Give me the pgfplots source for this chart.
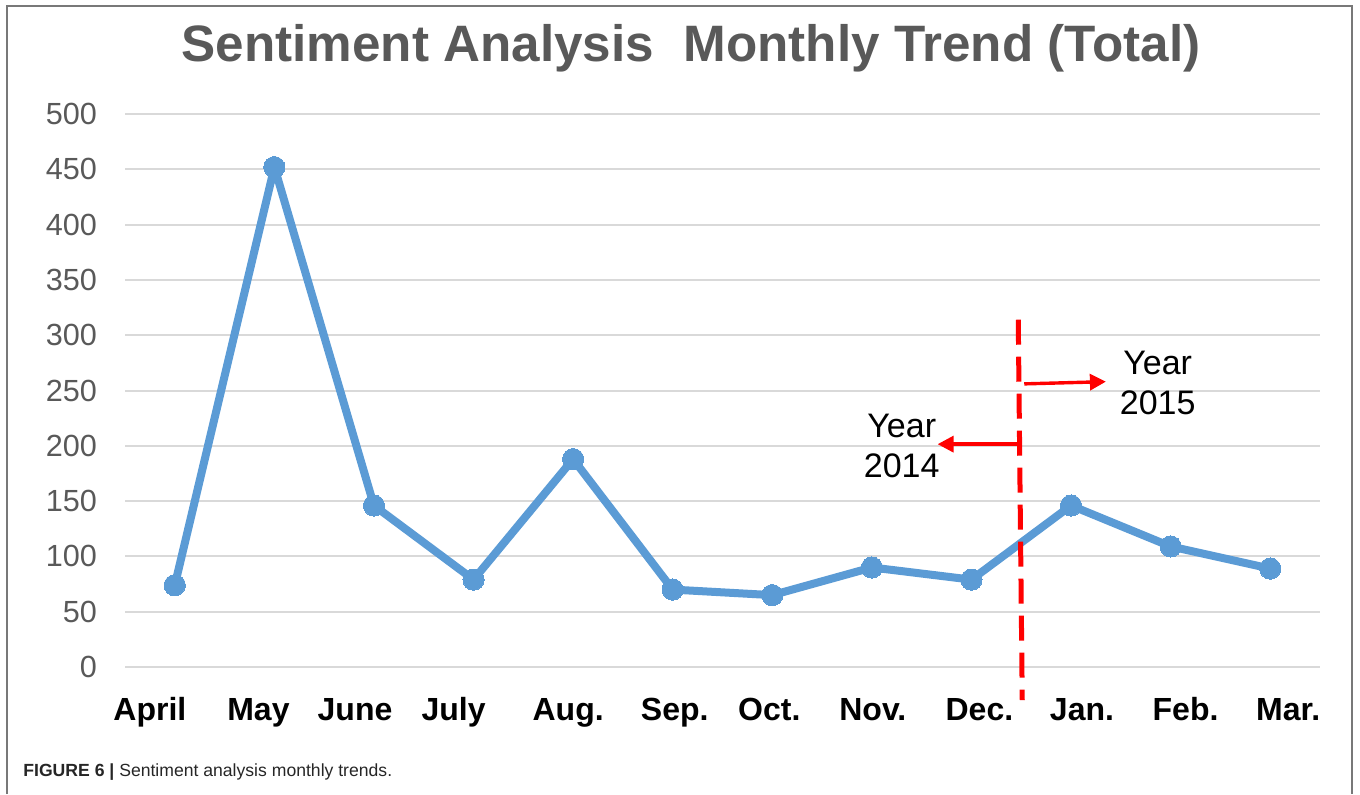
\documentclass[border=0pt]{standalone}
\usepackage{fontspec}
\setmainfont{Liberation Sans}
\usepackage{pgfplots}
\pgfplotsset{compat=1.18}
\usetikzlibrary{arrows.meta}
\definecolor{lineblue}{RGB}{91,155,213}
\definecolor{titlegray}{RGB}{89,89,89}
\definecolor{gridgray}{RGB}{217,217,217}
\definecolor{framegray}{RGB}{120,120,120}
\begin{document}
\begin{tikzpicture}
\path[use as bounding box] (0,0) rectangle (680pt,-397pt);
\draw[framegray, line width=1pt] (3.5pt,-397pt) -- (3.5pt,-3pt) -- (676pt,-3pt) -- (676pt,-397pt);
\node[anchor=base, text=titlegray, font=\fontsize{25.6}{30}\selectfont\bfseries] at (345.5pt,-30.5pt) {Sentiment Analysis\hspace{0.3em} Monthly Trend (Total)};
\node[anchor=base west, font=\fontsize{8.8}{10}\selectfont, text=black!85, inner sep=0pt] at (11.5pt,-388pt) {\textbf{FIGURE 6 |} Sentiment analysis monthly trends.};
\begin{axis}[
  scale only axis,
  width=597.5pt, height=276.5pt,
  at={(62.5pt,-333.5pt)}, anchor=south west,
  xmin=-0.5, xmax=11.5, ymin=0, ymax=500,
  ytick={0,50,...,500},
  xtick={-0.25,0.84,1.81,2.8,3.95,5.02,5.97,7.01,8.08,9.11,10.15,11.18},
  xticklabels={April,May,June,July,Aug.,Sep.,Oct.,Nov.,Dec.,Jan.,Feb.,Mar.},
  major tick length=0pt,
  axis line style={draw=none},
  ymajorgrids, grid style={gridgray, line width=1pt},
  /pgf/number format/assume math mode=true,
  yticklabel style={font=\fontsize{15.3}{18}\selectfont, text=titlegray, xshift=-10.5pt},
  xticklabel style={font=\fontsize{16}{19}\selectfont\bfseries, text=black, anchor=base, yshift=-26.5pt},
  clip=false,
]
\addplot[lineblue, line width=4pt, line join=round, mark=*, mark size=5.3pt, mark options={fill=lineblue, draw=lineblue, line width=0pt}]
  coordinates {(0,74) (1,452) (2,146) (3,79) (4,188) (5,70) (6,65) (7,90) (8,79) (9,146) (10,109) (11,89)};
\draw[red, line width=2.5pt, dash pattern=on 12.5pt off 6pt] (axis cs:8.47,314) -- (axis cs:8.51,-30);
\draw[red, line width=1.7pt, -{Triangle[length=8pt,width=8pt]}] (axis cs:8.47,201.5) -- (axis cs:7.66,201.5);
\draw[red, line width=1.7pt, -{Triangle[length=8pt,width=8pt]}] (axis cs:8.53,256) -- (axis cs:9.35,258);
\node[align=center, font=\fontsize{17}{20}\selectfont] at (axis cs:7.30,200) {Year\\2014};
\node[align=center, font=\fontsize{17}{20}\selectfont] at (axis cs:9.87,257) {Year\\2015};
\end{axis}
\end{tikzpicture}
\end{document}
